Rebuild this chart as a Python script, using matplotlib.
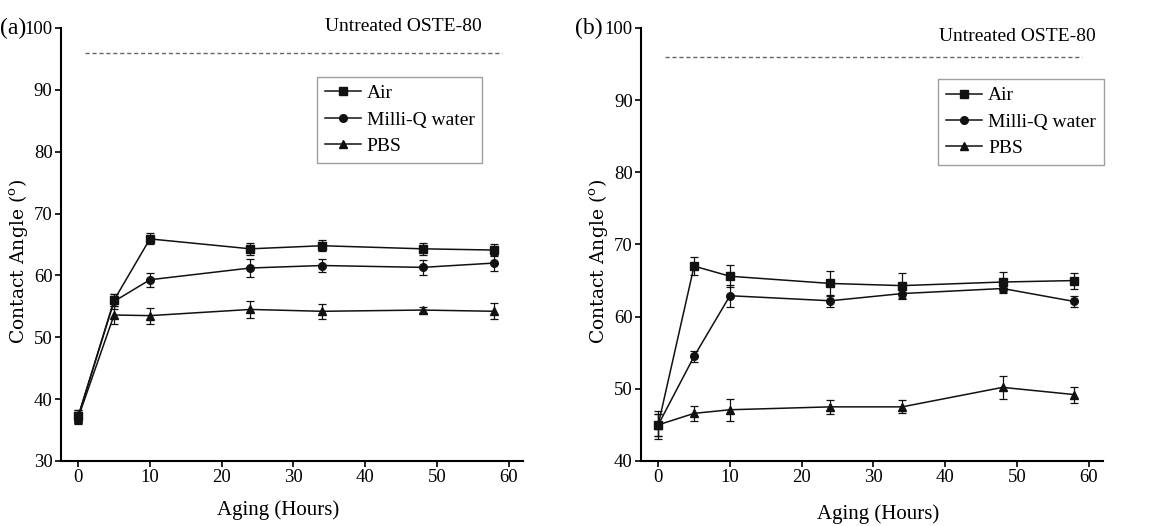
import numpy as np
import matplotlib
matplotlib.use("Agg")
import matplotlib.pyplot as plt

# -------------------------------------
# data
# -------------------------------------
hours = [0, 5, 10, 24, 34, 48, 58]
series_names = ["Air", "Milli-Q water", "PBS"]

# panel (a)
a_air = [37.2, 56.0, 65.9, 64.3, 64.8, 64.3, 64.1]
a_air_err = [1.0, 1.0, 0.9, 1.0, 0.9, 1.0, 1.0]
a_water = [37.2, 55.8, 59.3, 61.2, 61.6, 61.3, 62.0]
a_water_err = [1.0, 1.2, 1.1, 1.4, 1.1, 1.2, 1.3]
a_pbs = [37.0, 53.6, 53.5, 54.5, 54.2, 54.4, 54.2]
a_pbs_err = [1.0, 1.5, 1.3, 1.4, 1.2, 0.5, 1.3]

# panel (b)
b_air = [45.0, 67.0, 65.6, 64.6, 64.3, 64.8, 65.0]
b_air_err = [1.5, 1.2, 1.5, 1.7, 1.7, 1.4, 1.1]
b_water = [45.0, 54.5, 62.9, 62.2, 63.2, 63.9, 62.1]
b_water_err = [1.5, 0.8, 1.5, 0.8, 0.8, 0.6, 0.7]
b_pbs = [45.0, 46.6, 47.1, 47.5, 47.5, 50.2, 49.2]
b_pbs_err = [1.9, 1.0, 1.5, 1.0, 0.9, 1.6, 1.1]

untreated = 96.0

plt.rcParams['font.family'] = ['Liberation Serif', 'DejaVu Serif']
plt.rcParams['mathtext.fontset'] = 'custom'
plt.rcParams['mathtext.rm'] = 'DejaVu Serif'

fig = plt.figure(figsize=(11.61, 5.26), dpi=100)
ax_a = fig.add_axes([0.0525, 0.1236, 0.398, 0.8232])
ax_b = fig.add_axes([0.5521, 0.1236, 0.398, 0.8232])

markers = ["s", "o", "^"]


def draw_panel(ax, vals, errs, ylim, letter, letter_x, text_x, text_y, leg_anchor, xlab_pos):
    handles = []
    for name, v, e, m in zip(series_names, vals, errs, markers):
        eb = ax.errorbar(hours, v, yerr=e, color="#111111", marker=m,
                         markersize=5.5, lw=1.1, elinewidth=0.9,
                         capsize=3, capthick=0.9, label=name)
        handles.append(eb.lines[0])
    ax.plot([1, 59], [untreated, untreated], ls=(0, (3, 2)),
            color="#666666", lw=1.0)
    ax.text(text_x, text_y, "Untreated OSTE-80", fontsize=14,
            ha="center", va="center")
    ax.set_xlim(-2.4, 62)
    ax.set_ylim(*ylim)
    ax.set_xticks(range(0, 61, 10))
    ax.set_yticks(range(ylim[0], 101, 10))
    ax.spines["top"].set_visible(False)
    ax.spines["right"].set_visible(False)
    ax.spines["left"].set_linewidth(1.5)
    ax.spines["bottom"].set_linewidth(1.5)
    ax.tick_params(direction="out", length=4, width=1.2, labelsize=13.5, pad=2)
    ax.set_xlabel("Aging (Hours)", fontsize=15)
    ax.xaxis.set_label_coords(*xlab_pos)
    ax.set_ylabel("Contact Angle ($^{\\rm o}$)", fontsize=13.5,
                  family="DejaVu Serif")
    ax.yaxis.set_label_coords(-0.066, 0.46)
    ax.text(letter_x, 1.0, letter, transform=ax.transAxes, fontsize=17,
            ha="left", va="center")
    leg = ax.legend(handles, series_names, loc="upper center",
                    bbox_to_anchor=leg_anchor,
                    fontsize=14, frameon=True, fancybox=False,
                    handlelength=1.85, handletextpad=0.3,
                    borderpad=0.4, labelspacing=0.45, borderaxespad=0)
    leg.get_frame().set_edgecolor("#888888")
    leg.get_frame().set_linewidth(1.0)


draw_panel(ax_a, [a_air, a_water, a_pbs], [a_air_err, a_water_err, a_pbs_err],
           (30, 100), "(a)", -0.132, 45.3, 100.3, (0.733, 0.887), (0.47, -0.09))
draw_panel(ax_b, [b_air, b_water, b_pbs], [b_air_err, b_water_err, b_pbs_err],
           (40, 100), "(b)", -0.143, 50.1, 98.8, (0.8225, 0.882), (0.513, -0.10))

fig.savefig("out.png", dpi=100)
